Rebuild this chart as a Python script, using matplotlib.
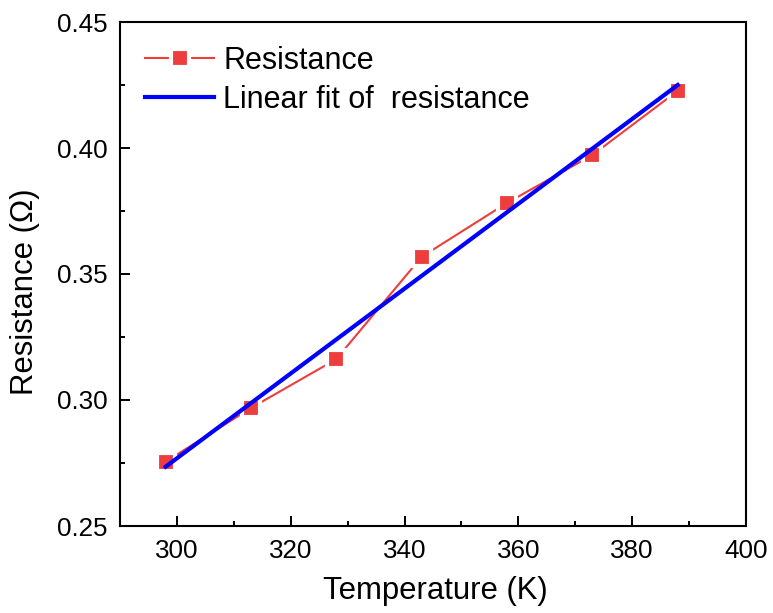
import matplotlib
matplotlib.use("Agg")
import matplotlib.pyplot as plt
from matplotlib.ticker import MultipleLocator, FormatStrFormatter

temperature = [298, 313, 328, 343, 358, 373, 388]
resistance = [0.2755, 0.2968, 0.3162, 0.3568, 0.3782, 0.3972, 0.4227]
fit_x = [298, 388]
fit_y = [0.2735, 0.4250]

plt.rcParams['font.family'] = ['Liberation Sans', 'DejaVu Sans']

fig = plt.figure(figsize=(7.73, 6.13), dpi=100)
ax = fig.add_axes([120/773, 1 - 526/613, (746-120)/773, (526-22)/613])

red = '#EE3D3D'
ax.plot(temperature, resistance, color=red, lw=1.5, marker='s', ms=13,
        mfc=red, mec='white', mew=3.0, label='Resistance', zorder=2)
ax.plot(fit_x, fit_y, color='#0000FF', lw=3, label='Linear fit of  resistance', zorder=3)

ax.set_xlim(290, 400)
ax.set_ylim(0.25, 0.45)
ax.xaxis.set_major_locator(MultipleLocator(20))
ax.xaxis.set_minor_locator(MultipleLocator(10))
ax.yaxis.set_major_locator(MultipleLocator(0.05))
ax.yaxis.set_minor_locator(MultipleLocator(0.025))
ax.yaxis.set_major_formatter(FormatStrFormatter('%.2f'))
ax.tick_params(which='both', direction='in', top=False, right=False, labelsize=18.7, width=1.4)
ax.tick_params(which='major', length=7.5, pad=9)
ax.tick_params(which='minor', length=3.5)
for s in ax.spines.values():
    s.set_linewidth(1.5)

ax.set_xlabel('Temperature (K)', fontsize=22.4)
ax.set_ylabel('Resistance (Ω)', fontsize=22.4)
ax.xaxis.set_label_coords(0.503, -0.1)
ax.yaxis.set_label_coords(-0.127, 0.465)

leg = ax.legend(loc='center left', frameon=False, fontsize=22,
                handlelength=2.26, handletextpad=0.3, borderaxespad=0.0, borderpad=0.0,
                labelspacing=0.3)
leg.set_bbox_to_anchor((25/626, 1 - 58.5/504), transform=ax.transAxes)

fig.savefig('out.png', dpi=100)
